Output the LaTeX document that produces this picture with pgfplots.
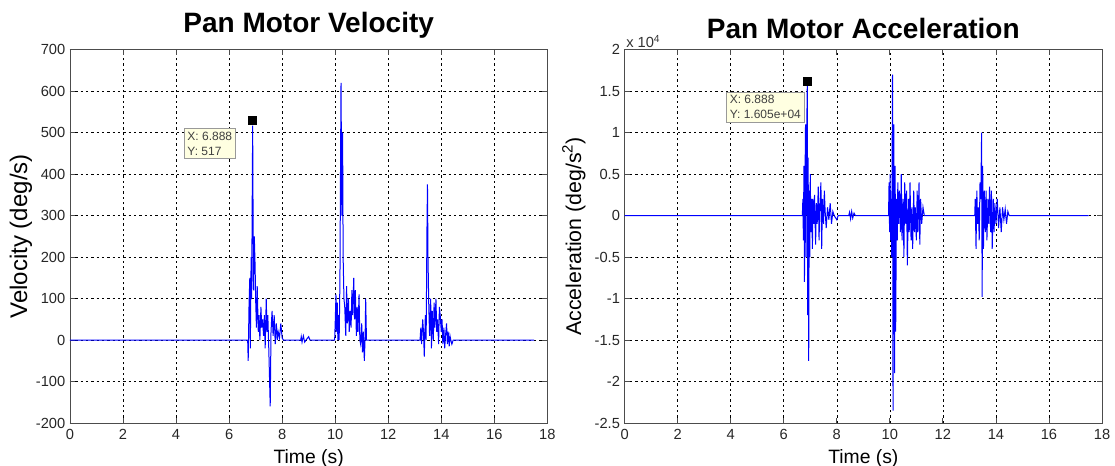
\documentclass[border=0pt]{standalone}
\usepackage{fontspec}
\setmainfont{Liberation Sans}
\usepackage{pgfplots}
\pgfplotsset{compat=1.18}

\definecolor{tipbg}{RGB}{255,255,225}

\pgfplotsset{
  matlab/.style={
    scale only axis,
    width=358pt, height=280pt,
    xmin=0, xmax=18, xtick={0,2,...,18},
    clip=false,
    grid=major,
    major grid style={black, line width=0.45pt, dash pattern=on 1.8pt off 2.2pt},
    axis line style={black!70, line width=0.7pt},
    tick style={black!70, line width=0.6pt},
    tick align=inside,
    major tick length=4pt,
    tick label style={font=\fontsize{11}{13}\selectfont, black!85},
    xticklabel style={yshift=-1.5pt},
    /pgf/number format/assume math mode=true,
    xlabel style={font=\fontsize{14.5}{16}\selectfont},
    title style={font=\fontsize{21}{23}\selectfont\bfseries, yshift=-1pt},
    xlabel={Time (s)},
  },
  trace/.style={blue, line width=0.75pt},
}

\begin{document}
\begin{tikzpicture}
\useasboundingbox (-52.5pt,-32.25pt) rectangle (783.75pt,317.25pt);

% velocity
\begin{axis}[matlab,
  at={(0pt,0pt)},
  ymin=-200, ymax=700, ytick={-200,-100,...,700},
  title={Pan Motor Velocity},
  ylabel={Velocity (deg/s)},
  ylabel style={font=\fontsize{18}{20}\selectfont, yshift=-4pt},
]
\addplot[trace] coordinates {
(0,0) (6.70,0) (6.72,-50) (6.75,80) (6.78,150) (6.80,-20) (6.83,200) (6.85,100)
(6.888,517) (6.90,350) (6.92,120) (6.95,250) (6.98,180) (7.00,100) (7.03,30)
(7.06,130) (7.10,20) (7.13,60) (7.16,0) (7.20,80) (7.23,30) (7.26,50) (7.30,10)
(7.33,60) (7.36,-20) (7.40,100) (7.43,20) (7.46,60) (7.50,-30) (7.55,-160)
(7.58,20) (7.62,70) (7.66,10) (7.70,60) (7.74,-10) (7.78,40) (7.82,0) (7.85,20)
(7.90,5) (7.95,40) (8.00,5) (8.05,0)
(8.70,0) (8.72,8) (8.75,-5) (8.80,10) (8.85,-5) (8.90,0) (9.00,8) (9.05,0)
(9.98,0) (10.00,40) (10.03,110) (10.05,20) (10.08,90) (10.10,0) (10.13,60)
(10.15,0) (10.18,150) (10.20,400) (10.22,620) (10.25,300) (10.28,500) (10.30,200)
(10.33,100) (10.36,80) (10.40,10) (10.43,130) (10.46,40) (10.50,100) (10.53,20)
(10.56,70) (10.60,30) (10.63,120) (10.66,60) (10.70,150) (10.73,50) (10.76,120)
(10.80,10) (10.83,80) (10.86,20) (10.90,110) (10.93,0) (10.96,-10) (11.00,40)
(11.03,-30) (11.06,20) (11.10,-50) (11.13,10) (11.15,100) (11.18,0) (11.20,0)
(13.20,0) (13.23,30) (13.26,-10) (13.30,50) (13.33,20) (13.36,-40) (13.40,60)
(13.43,0) (13.46,260) (13.48,375) (13.50,200) (13.53,80) (13.56,10) (13.60,100)
(13.63,-20) (13.66,70) (13.70,0) (13.73,90) (13.76,30) (13.80,100) (13.83,20)
(13.86,50) (13.90,-10) (13.93,80) (13.96,60) (14.00,20) (14.03,50) (14.06,-10)
(14.10,30) (14.13,-20) (14.16,10) (14.20,40) (14.23,-10) (14.26,20) (14.30,-15)
(14.33,10) (14.36,0) (14.40,-10) (14.45,0) (17.5,0)
};
\addplot[only marks, mark=square*, mark size=3pt, black] coordinates {(6.888,530)};
\node[draw=black!40, fill=tipbg, anchor=north east, align=left, inner sep=2.5pt,
  font=\fontsize{9}{11}\selectfont, text=black!75] at (axis cs:6.25,510) {X: 6.888\\Y: 517};
\end{axis}

% acceleration (in units of 1e4)
\begin{axis}[matlab,
  at={(416pt,0pt)},
  ymin=-2.5, ymax=2, ytick={-2.5,-2,...,2},
  yticklabel style={/pgf/number format/fixed},
  title={Pan Motor Acceleration},
  ylabel={Acceleration (deg/s\textsuperscript{2})},
  ylabel style={font=\fontsize{16}{18}\selectfont},
]
\addplot[trace] coordinates {
(0,0) (6.70,0) (6.72,0.2) (6.74,-0.3) (6.76,0.6) (6.78,-0.8) (6.80,0.4) (6.82,1.1)
(6.84,-0.5) (6.86,0.9) (6.888,1.605) (6.90,-1.2) (6.92,0.7) (6.94,-1.75) (6.96,0.3)
(6.98,-0.5) (7.00,0.5) (7.02,-0.2) (7.05,0.2) (7.08,-0.4) (7.10,0.2) (7.13,-0.1)
(7.16,0.25) (7.20,-0.35) (7.23,0.15) (7.26,-0.1) (7.30,0.35) (7.33,-0.3) (7.36,0.1)
(7.40,0.4) (7.43,-0.4) (7.46,0.2) (7.50,-0.1) (7.53,0.3) (7.56,0.05) (7.60,-0.15)
(7.65,0.1) (7.70,-0.05) (7.75,0.15) (7.80,-0.1) (7.85,0.05) (7.90,0) (8.00,-0.05) (8.05,0)
(8.45,0) (8.48,0.04) (8.52,-0.04) (8.56,0.05) (8.60,-0.03) (8.65,0.03) (8.70,0)
(9.95,0) (9.97,0.4) (9.99,-0.2) (10.01,0.5) (10.03,-0.3) (10.05,0.2) (10.07,-0.5)
(10.10,1.7) (10.12,-2.35) (10.15,1.1) (10.18,-1.9) (10.20,0.6) (10.22,-1.4) (10.25,0.2)
(10.28,-0.3) (10.30,0.4) (10.33,-0.1) (10.36,0.3) (10.40,-0.2) (10.43,0.5) (10.46,-0.3)
(10.50,0.2) (10.53,-0.5) (10.56,0.4) (10.60,-0.1) (10.63,0.3) (10.66,-0.6) (10.70,0.2)
(10.73,-0.2) (10.76,0.4) (10.80,-0.3) (10.83,0.1) (10.86,-0.4) (10.90,0.3) (10.93,-0.2)
(10.96,0.1) (11.00,-0.3) (11.03,0.3) (11.06,-0.2) (11.10,0.4) (11.13,-0.35) (11.16,0.2)
(11.20,-0.1) (11.25,0.1) (11.30,0)
(13.20,0) (13.22,0.2) (13.25,-0.4) (13.28,0.3) (13.31,-0.1) (13.34,0.1) (13.37,-0.3)
(13.40,0.4) (13.43,0.2) (13.46,1.0) (13.48,-0.98) (13.50,0.6) (13.53,-0.4) (13.56,0.3)
(13.60,-0.2) (13.63,0.3) (13.66,-0.3) (13.70,0.2) (13.73,-0.1) (13.76,0.35) (13.80,-0.2)
(13.83,0.3) (13.86,-0.4) (13.90,0.2) (13.93,-0.2) (13.96,0.15) (14.00,-0.1) (14.05,0.2)
(14.10,-0.15) (14.15,0.1) (14.20,-0.2) (14.25,0.1) (14.30,-0.05) (14.35,0.08)
(14.40,-0.1) (14.45,0.05) (14.50,0) (17.5,0)
};
\addplot[only marks, mark=square*, mark size=3pt, black] coordinates {(6.888,1.62)};
\node[draw=black!40, fill=tipbg, anchor=north east, align=left, inner sep=2.5pt,
  font=\fontsize{9}{11}\selectfont, text=black!75] at (axis cs:6.78,1.49) {X: 6.888\\Y: 1.605e+04};
\node[anchor=south west, font=\fontsize{11}{13}\selectfont, text=black!80, inner sep=1pt]
  at (rel axis cs:0,1) {x 10\textsuperscript{4}};
\end{axis}
\end{tikzpicture}
\end{document}
